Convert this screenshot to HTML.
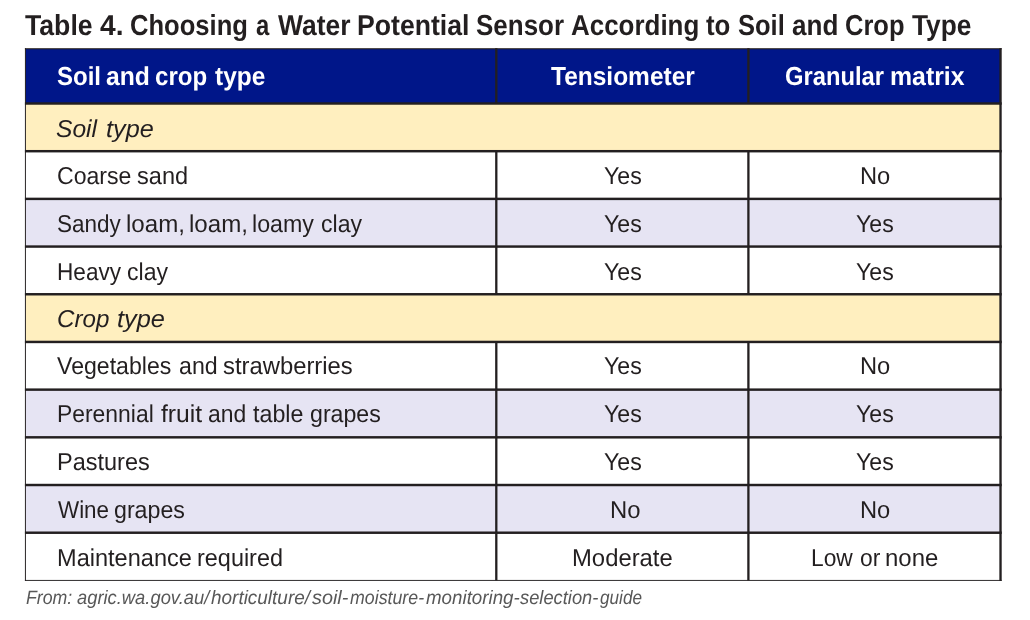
<!DOCTYPE html>
<html lang="en">
<head>
<meta charset="utf-8">
<title>Table 4. Choosing a Water Potential Sensor According to Soil and Crop Type</title>
<style>
html,body{margin:0;padding:0;background:#fff;}
body{width:1030px;height:620px;position:relative;overflow:hidden;font-family:"Liberation Sans", sans-serif;color:#231f20;}
svg.grid{position:absolute;left:0;top:0;}
h1,p,table,thead,tbody,tr,th,td{display:block;margin:0;padding:0;border:0;font:inherit;}
h1,p,th,td{position:absolute;left:0;top:0;width:0;height:0;}
span{position:absolute;display:block;white-space:nowrap;line-height:1;text-rendering:geometricPrecision;transform-origin:0 50%;}
h1{font-weight:700;font-size:28.85px;}
th{font-weight:700;font-size:26.0px;color:#fff;}
td{font-size:24.4px;}
td.s{font-style:italic;}
p{font-size:19.4px;font-style:italic;color:#585858;}
</style>
</head>
<body>
<svg class="grid" width="1030" height="620" viewBox="0 0 1030 620">
<rect x="25.45" y="49.00" width="975.05" height="54.50" fill="#001689"/>
<rect x="25.45" y="103.50" width="975.05" height="47.69" fill="#ffefbf"/>
<rect x="25.45" y="198.88" width="975.05" height="47.69" fill="#e6e4f3"/>
<rect x="25.45" y="294.26" width="975.05" height="47.69" fill="#ffefbf"/>
<rect x="25.45" y="389.64" width="975.05" height="47.69" fill="#e6e4f3"/>
<rect x="25.45" y="485.02" width="975.05" height="47.69" fill="#e6e4f3"/>
<g fill="#231f20">
<rect x="24.93" y="48.20" width="976.77" height="1.12"/>
<rect x="24.93" y="579.93" width="976.77" height="0.94"/>
<rect x="24.93" y="48.20" width="0.97" height="532.67"/>
<rect x="999.35" y="48.20" width="2.35" height="532.67"/>
<rect x="24.93" y="102.28" width="976.77" height="2.45"/>
<rect x="24.93" y="149.97" width="976.77" height="2.45"/>
<rect x="24.93" y="197.66" width="976.77" height="2.45"/>
<rect x="24.93" y="245.34" width="976.77" height="2.45"/>
<rect x="24.93" y="293.03" width="976.77" height="2.45"/>
<rect x="24.93" y="340.72" width="976.77" height="2.45"/>
<rect x="24.93" y="388.41" width="976.77" height="2.45"/>
<rect x="24.93" y="436.10" width="976.77" height="2.45"/>
<rect x="24.93" y="483.79" width="976.77" height="2.45"/>
<rect x="24.93" y="531.49" width="976.77" height="2.45"/>
<rect x="495.15" y="48.20" width="2.30" height="55.30"/>
<rect x="747.25" y="48.20" width="2.30" height="55.30"/>
<rect x="495.15" y="151.19" width="2.30" height="47.69"/>
<rect x="747.25" y="151.19" width="2.30" height="47.69"/>
<rect x="495.15" y="198.88" width="2.30" height="47.69"/>
<rect x="747.25" y="198.88" width="2.30" height="47.69"/>
<rect x="495.15" y="246.57" width="2.30" height="47.69"/>
<rect x="747.25" y="246.57" width="2.30" height="47.69"/>
<rect x="495.15" y="341.95" width="2.30" height="47.69"/>
<rect x="747.25" y="341.95" width="2.30" height="47.69"/>
<rect x="495.15" y="389.64" width="2.30" height="47.69"/>
<rect x="747.25" y="389.64" width="2.30" height="47.69"/>
<rect x="495.15" y="437.33" width="2.30" height="47.69"/>
<rect x="747.25" y="437.33" width="2.30" height="47.69"/>
<rect x="495.15" y="485.02" width="2.30" height="47.69"/>
<rect x="747.25" y="485.02" width="2.30" height="47.69"/>
<rect x="495.15" y="532.71" width="2.30" height="47.69"/>
<rect x="747.25" y="532.71" width="2.30" height="47.69"/>
</g>
</svg>
<h1><span style="left:25.48px;top:12px;transform:scaleX(0.9239)">Table </span><span style="left:100.16px;top:12px;transform:scaleX(0.9767)">4. </span><span style="left:130.39px;top:12px;transform:scaleX(0.8871)">Choosing </span><span style="left:255.87px;top:12px;transform:scaleX(0.8267)">a </span><span style="left:277.77px;top:12px;transform:scaleX(0.9174)">Water </span><span style="left:357.05px;top:12px;transform:scaleX(0.9235)">Potential </span><span style="left:476.35px;top:12px;transform:scaleX(0.9005)">Sensor </span><span style="left:570.59px;top:12px;transform:scaleX(0.8995)">According </span><span style="left:706.07px;top:12px;transform:scaleX(0.8959)">to </span><span style="left:738.17px;top:12px;transform:scaleX(0.8843)">Soil </span><span style="left:791.90px;top:12px;transform:scaleX(0.9042)">and </span><span style="left:844.89px;top:12px;transform:scaleX(0.8835)">Crop </span><span style="left:912.29px;top:12px;transform:scaleX(0.9112)">Type</span></h1>
<table>
<thead><tr><th><span style="left:56.62px;top:63px;transform:scaleX(0.9240)">Soil </span><span style="left:106.45px;top:63px;transform:scaleX(0.9488)">and </span><span style="left:155.39px;top:63px;transform:scaleX(0.9256)">crop </span><span style="left:214.59px;top:63px;transform:scaleX(0.9425)">type</span></th><th><span style="left:550.80px;top:63px;transform:scaleX(0.9421)">Tensiometer</span></th><th><span style="left:784.94px;top:63px;transform:scaleX(0.9138)">Granular </span><span style="left:890.19px;top:63px;transform:scaleX(0.9560)">matrix</span></th></tr></thead>
<tbody>
<tr><td class="s"><span style="left:56.49px;top:118px;transform:scaleX(1.0089)">Soil </span><span style="left:105.60px;top:118px;transform:scaleX(1.0356)">type</span></td></tr>
<tr><td><span style="left:56.79px;top:165px;transform:scaleX(0.9467)">Coarse </span><span style="left:136.53px;top:165px;transform:scaleX(0.9660)">sand</span></td><td><span style="left:603.60px;top:165px;transform:scaleX(0.9498)">Yes</span></td><td><span style="left:859.66px;top:165px;transform:scaleX(0.9714)">No</span></td></tr>
<tr><td><span style="left:56.65px;top:213px;transform:scaleX(0.9221)">Sandy </span><span style="left:126.22px;top:213px;transform:scaleX(0.9891)">loam, </span><span style="left:189.02px;top:213px;transform:scaleX(0.9891)">loam, </span><span style="left:252.00px;top:213px;transform:scaleX(0.9524)">loamy </span><span style="left:320.59px;top:213px;transform:scaleX(0.9467)">clay</span></td><td><span style="left:603.60px;top:213px;transform:scaleX(0.9498)">Yes</span></td><td><span style="left:855.70px;top:213px;transform:scaleX(0.9471)">Yes</span></td></tr>
<tr><td><span style="left:56.65px;top:261px;transform:scaleX(0.9265)">Heavy </span><span style="left:126.89px;top:261px;transform:scaleX(0.9467)">clay</span></td><td><span style="left:603.60px;top:261px;transform:scaleX(0.9498)">Yes</span></td><td><span style="left:855.70px;top:261px;transform:scaleX(0.9471)">Yes</span></td></tr>
<tr><td class="s"><span style="left:56.92px;top:308px;transform:scaleX(0.9903)">Crop </span><span style="left:116.69px;top:308px;transform:scaleX(1.0402)">type</span></td></tr>
<tr><td><span style="left:57.36px;top:355px;transform:scaleX(0.9473)">Vegetables </span><span style="left:178.56px;top:355px;transform:scaleX(0.9497)">and </span><span style="left:223.12px;top:355px;transform:scaleX(0.9763)">strawberries</span></td><td><span style="left:603.60px;top:355px;transform:scaleX(0.9498)">Yes</span></td><td><span style="left:859.66px;top:355px;transform:scaleX(0.9714)">No</span></td></tr>
<tr><td><span style="left:56.72px;top:403px;transform:scaleX(0.9385)">Perennial </span><span style="left:160.63px;top:403px;transform:scaleX(1.0119)">fruit </span><span style="left:208.47px;top:403px;transform:scaleX(0.9392)">and </span><span style="left:253.43px;top:403px;transform:scaleX(0.9535)">table </span><span style="left:310.29px;top:403px;transform:scaleX(0.9493)">grapes</span></td><td><span style="left:603.60px;top:403px;transform:scaleX(0.9498)">Yes</span></td><td><span style="left:855.70px;top:403px;transform:scaleX(0.9471)">Yes</span></td></tr>
<tr><td><span style="left:56.67px;top:451px;transform:scaleX(0.9634)">Pastures</span></td><td><span style="left:603.60px;top:451px;transform:scaleX(0.9498)">Yes</span></td><td><span style="left:855.70px;top:451px;transform:scaleX(0.9471)">Yes</span></td></tr>
<tr><td><span style="left:57.60px;top:499px;transform:scaleX(0.9185)">Wine </span><span style="left:114.49px;top:499px;transform:scaleX(0.9507)">grapes</span></td><td><span style="left:610.14px;top:499px;transform:scaleX(0.9786)">No</span></td><td><span style="left:859.66px;top:499px;transform:scaleX(0.9714)">No</span></td></tr>
<tr><td><span style="left:56.77px;top:547px;transform:scaleX(0.9660)">Maintenance </span><span style="left:197.18px;top:547px;transform:scaleX(0.9610)">required</span></td><td><span style="left:572.04px;top:547px;transform:scaleX(0.9777)">Moderate</span></td><td><span style="left:811.43px;top:547px;transform:scaleX(0.9332)">Low </span><span style="left:859.90px;top:547px;transform:scaleX(0.9342)">or </span><span style="left:885.04px;top:547px;transform:scaleX(0.9824)">none</span></td></tr>
</tbody>
</table>
<p><span style="left:26.09px;top:589px;transform:scaleX(0.9139)">From: </span><span style="left:77.33px;top:589px;transform:scaleX(0.9463)">agric.wa.gov.au/</span><span style="left:211.27px;top:589px;transform:scaleX(0.9772)">horticulture/</span><span style="left:312.06px;top:589px;transform:scaleX(1.0216)">soil-</span><span style="left:350.20px;top:589px;transform:scaleX(0.9163)">moisture-</span><span style="left:426.08px;top:589px;transform:scaleX(0.9669)">monitoring-</span><span style="left:520.48px;top:589px;transform:scaleX(0.9441)">selection-</span><span style="left:599.86px;top:589px;transform:scaleX(0.8862)">guide</span></p>
</body>
</html>
